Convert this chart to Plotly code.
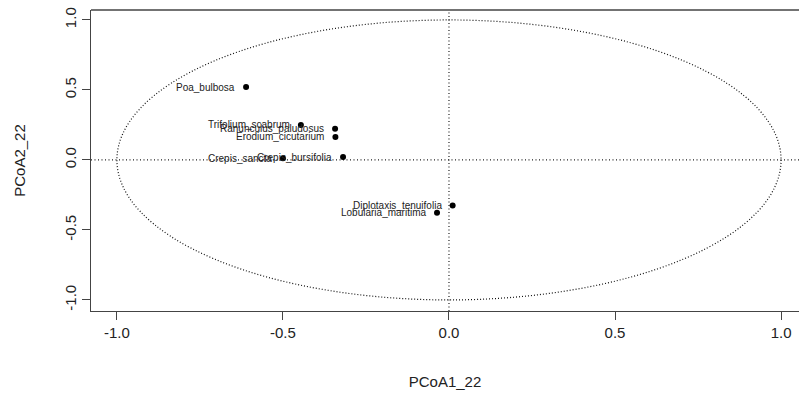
import plotly.graph_objects as go

species = ["Poa_bulbosa", "Trifolium_scabrum", "Ranunculus_paludosus", "Erodium_cicutarium",
           "Crepis_bursifolia", "Crepis_sancta", "Diplotaxis_tenuifolia", "Lobularia_maritima"]
pcoa1 = [-0.611, -0.446, -0.343, -0.342, -0.319, -0.500, 0.011, -0.036]
pcoa2 = [0.521, 0.250, 0.222, 0.164, 0.021, 0.012, -0.325, -0.378]
tick_vals = [-1.0, -0.5, 0.0, 0.5, 1.0]
tick_text = ["-1.0", "-0.5", "0.0", "0.5", "1.0"]

FONT = "Liberation Sans, Arial, sans-serif"
AX = "#444444"
TXT = "#222222"

fig = go.Figure()
fig.add_trace(go.Scatter(
    x=pcoa1, y=pcoa2, mode="markers",
    marker=dict(color="black", size=6),
    cliponaxis=False, showlegend=False, text=species, hoverinfo="text"))

for name, px, py in zip(species, pcoa1, pcoa2):
    fig.add_annotation(x=px, y=py, xref="x", yref="y", text=name, showarrow=False,
                       xanchor="right", yanchor="middle", xshift=-9,
                       font=dict(family=FONT, size=10, color=TXT))

# unit circle (ellipse in plot) and zero lines
fig.add_shape(type="circle", xref="x", yref="y", x0=-1, x1=1, y0=-1, y1=1,
              line=dict(color="#111111", width=1.2, dash="1px,2px"), layer="below")
fig.add_shape(type="line", xref="x", yref="paper", x0=0, x1=0, y0=0, y1=1,
              line=dict(color="#222222", width=1.2, dash="1px,2.5px"), layer="below")
fig.add_shape(type="line", xref="paper", yref="y", x0=0, x1=1, y0=0, y1=0,
              line=dict(color="#222222", width=1.2, dash="1px,2.5px"), layer="below")
# box top
fig.add_shape(type="line", xref="paper", yref="paper", x0=0, x1=1, y0=1, y1=1,
              line=dict(color=AX, width=1.3))

fig.update_layout(
    width=799, height=398,
    margin=dict(l=91, r=0, t=10, b=87),
    paper_bgcolor="white", plot_bgcolor="white",
    font=dict(family=FONT, color=TXT),
    xaxis=dict(range=[-1.078, 1.054], tickvals=tick_vals, ticktext=tick_text,
               showgrid=False, zeroline=False, showline=True, linecolor=AX, linewidth=1.3,
               ticks="outside", ticklen=8, tickcolor=AX, tickwidth=1,
               tickfont=dict(size=15, family=FONT, color=TXT),
               title=dict(text="PCoA1_22", font=dict(size=15, family=FONT, color=TXT), standoff=36)),
    yaxis=dict(range=[-1.079, 1.071], tickvals=tick_vals, ticktext=tick_text,
               showgrid=False, zeroline=False, showline=True, linecolor=AX, linewidth=1.3,
               ticks="outside", ticklen=8, tickcolor=AX, tickwidth=1, tickangle=-90,
               tickfont=dict(size=15, family=FONT, color=TXT),
               title=dict(text="PCoA2_22", font=dict(size=15, family=FONT, color=TXT), standoff=32)),
)

fig.write_html("out.html")
